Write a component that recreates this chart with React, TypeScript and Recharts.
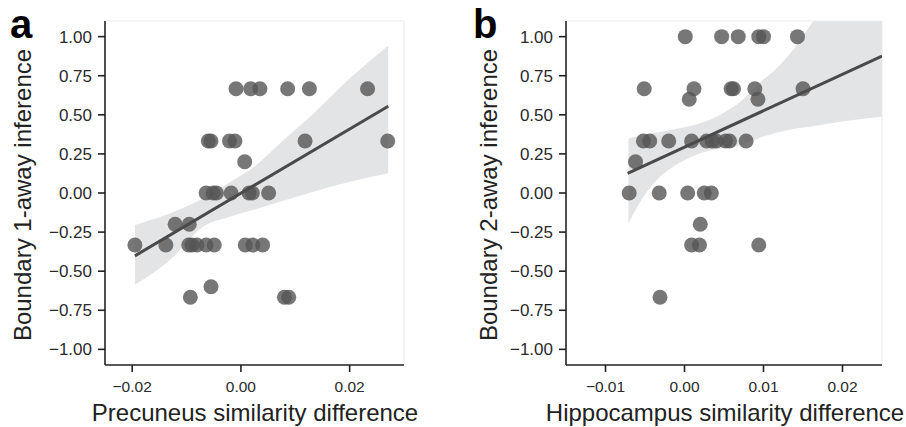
import React from 'react';
import { ComposedChart, Scatter, Area, XAxis, YAxis, ReferenceLine } from 'recharts';

const FONT = '"Liberation Sans", Arial, Helvetica, sans-serif';

const yTicks = [-1, -0.75, -0.5, -0.25, 0, 0.25, 0.5, 0.75, 1];
const xTicksA = [-0.02, 0, 0.02];
const xTicksB = [-0.01, 0, 0.01, 0.02];

// Panel a: Precuneus similarity difference vs Boundary 1-away inference
const pointsA = [
  { x: -0.0009, y: 0.667 }, { x: 0.0018, y: 0.667 }, { x: 0.0035, y: 0.667 },
  { x: 0.0086, y: 0.667 }, { x: 0.0126, y: 0.667 }, { x: 0.0233, y: 0.667 },
  { x: -0.0060, y: 0.333 }, { x: -0.0055, y: 0.333 }, { x: -0.0021, y: 0.333 },
  { x: -0.0011, y: 0.333 }, { x: 0.0118, y: 0.333 }, { x: 0.0270, y: 0.333 },
  { x: 0.0007, y: 0.2 },
  { x: -0.0064, y: 0 }, { x: -0.0051, y: 0 }, { x: -0.0045, y: 0 }, { x: -0.0018, y: 0 },
  { x: 0.0015, y: 0 }, { x: 0.0021, y: 0 }, { x: 0.0051, y: 0 },
  { x: -0.0121, y: -0.2 }, { x: -0.0095, y: -0.2 },
  { x: -0.0195, y: -0.333 }, { x: -0.0138, y: -0.333 }, { x: -0.0096, y: -0.333 },
  { x: -0.0090, y: -0.333 }, { x: -0.0081, y: -0.333 }, { x: -0.0064, y: -0.333 },
  { x: -0.0049, y: -0.333 }, { x: 0.0008, y: -0.333 }, { x: 0.0022, y: -0.333 },
  { x: 0.0040, y: -0.333 },
  { x: -0.0055, y: -0.6 },
  { x: -0.0093, y: -0.667 }, { x: 0.0080, y: -0.667 }, { x: 0.0088, y: -0.667 },
];
const fitA = [{ x: -0.0195, y: -0.402 }, { x: 0.0271, y: 0.555 }];
const bandA = [
  { x: -0.0195, lo: -0.587, hi: -0.204 },
  { x: -0.013, lo: -0.427, hi: -0.129 },
  { x: -0.0069, lo: -0.215, hi: -0.034 },
  { x: -0.002, lo: -0.152, hi: 0.07 },
  { x: 0.002, lo: -0.111, hi: 0.156 },
  { x: 0.0078, lo: -0.05, hi: 0.338 },
  { x: 0.014, lo: 0.015, hi: 0.53 },
  { x: 0.0201, lo: 0.072, hi: 0.735 },
  { x: 0.0271, lo: 0.126, hi: 0.944 },
];

// Panel b: Hippocampus similarity difference vs Boundary 2-away inference
const pointsB = [
  { x: 0.0001, y: 1 }, { x: 0.0047, y: 1 }, { x: 0.0068, y: 1 },
  { x: 0.0094, y: 1 }, { x: 0.0100, y: 1 }, { x: 0.0143, y: 1 },
  { x: -0.0051, y: 0.667 }, { x: 0.0012, y: 0.667 }, { x: 0.0059, y: 0.667 },
  { x: 0.0062, y: 0.667 }, { x: 0.0089, y: 0.667 }, { x: 0.0150, y: 0.667 },
  { x: 0.0006, y: 0.6 }, { x: 0.0093, y: 0.6 },
  { x: -0.0052, y: 0.333 }, { x: -0.0044, y: 0.333 }, { x: -0.0020, y: 0.333 },
  { x: 0.0009, y: 0.333 }, { x: 0.0028, y: 0.333 }, { x: 0.0035, y: 0.333 },
  { x: 0.0040, y: 0.333 }, { x: 0.0052, y: 0.333 }, { x: 0.0057, y: 0.333 },
  { x: 0.0078, y: 0.333 },
  { x: -0.0062, y: 0.2 },
  { x: -0.0070, y: 0 }, { x: -0.0032, y: 0 }, { x: 0.0004, y: 0 },
  { x: 0.0025, y: 0 }, { x: 0.0034, y: 0 },
  { x: 0.0020, y: -0.2 },
  { x: 0.0009, y: -0.333 }, { x: 0.0019, y: -0.333 }, { x: 0.0094, y: -0.333 },
  { x: -0.0031, y: -0.667 },
];
const fitB = [{ x: -0.0072, y: 0.125 }, { x: 0.025, y: 0.876 }];
const bandB = [
  { x: -0.0071, lo: -0.193, hi: 0.349 },
  { x: -0.0052, lo: -0.024, hi: 0.37 },
  { x: -0.0031, lo: 0.104, hi: 0.39 },
  { x: 0.0, lo: 0.21, hi: 0.42 },
  { x: 0.0033, lo: 0.274, hi: 0.47 },
  { x: 0.0052, lo: 0.29, hi: 0.52 },
  { x: 0.007, lo: 0.306, hi: 0.58 },
  { x: 0.0096, lo: 0.355, hi: 0.71 },
  { x: 0.0113, lo: 0.381, hi: 0.78 },
  { x: 0.0138, lo: 0.41, hi: 0.92 },
  { x: 0.0163, lo: 0.427, hi: 1.1 },
  { x: 0.0197, lo: 0.455, hi: 1.37 },
  { x: 0.025, lo: 0.487, hi: 1.78 },
];

const fmt = (v: number) => (v < -1e-12 ? '\u2212' : '') + Math.abs(v).toFixed(2);

const Dot = (props: any) => (
  <circle cx={props.cx} cy={props.cy} r={7.5} fill="#555" fillOpacity={0.8} />
);
const NoDot = () => <g />;

const YTick = (props: any) => (
  <text
    x={props.x}
    y={props.y}
    dy="0.36em"
    textAnchor="end"
    fontSize={17}
    fontFamily={FONT}
    fill="#2a2a2a"
  >
    {fmt(props.payload.value)}
  </text>
);
const XTick = (props: any) => (
  <text
    x={props.x}
    y={props.y}
    dy="0.76em"
    textAnchor="middle"
    fontSize={15.5}
    fontFamily={FONT}
    fill="#2a2a2a"
  >
    {fmt(props.payload.value)}
  </text>
);

const axisStroke = { stroke: '#222', strokeWidth: 1.6 };

type PanelProps = {
  points: { x: number; y: number }[];
  fit: { x: number; y: number }[];
  band: { x: number; lo: number; hi: number }[];
  xDomain: [number, number];
  xTicks: number[];
  yAxisWidth: number;
  marginRight: number;
};

function Panel({ points, fit, band, xDomain, xTicks, yAxisWidth, marginRight }: PanelProps) {
  return (
    <ComposedChart
      width={453}
      height={427}
      data={band}
      margin={{ top: 21, right: marginRight, left: 0, bottom: 0 }}
    >
      <XAxis
        type="number"
        dataKey="x"
        domain={xDomain}
        ticks={xTicks}
        interval={0}
        allowDataOverflow
        height={62}
        tickSize={7}
        tickMargin={8}
        axisLine={axisStroke}
        tickLine={axisStroke}
        tick={XTick}
      />
      <YAxis
        type="number"
        dataKey="y"
        domain={[-1.1, 1.1]}
        ticks={yTicks}
        interval={0}
        allowDataOverflow
        width={yAxisWidth}
        tickSize={7}
        tickMargin={6}
        axisLine={axisStroke}
        tickLine={axisStroke}
        tick={YTick}
      />
      <ReferenceLine y={1.1} stroke="#ebebeb" strokeWidth={1} />
      <ReferenceLine x={xDomain[1]} stroke="#ebebeb" strokeWidth={1} />
      <Area
        type="monotone"
        dataKey={(d: any) => [d.lo, d.hi]}
        stroke="none"
        fill="#e3e4e6"
        fillOpacity={1}
        dot={false}
        activeDot={false}
        isAnimationActive={false}
      />
      <Scatter data={points} shape={Dot} isAnimationActive={false} />
      <Scatter
        data={fit}
        shape={NoDot}
        line={{ stroke: '#4a4a4a', strokeWidth: 3 }}
        isAnimationActive={false}
      />
    </ComposedChart>
  );
}

export default function App() {
  return (
    <div style={{ position: 'absolute', left: 0, top: 0, width: 906, height: 427, background: '#fff' }}>
      <div style={{ position: 'absolute', left: 0, top: 0 }}>
        <Panel
          points={pointsA}
          fit={fitA}
          band={bandA}
          xDomain={[-0.025, 0.03]}
          xTicks={xTicksA}
          yAxisWidth={105}
          marginRight={49}
        />
      </div>
      <div style={{ position: 'absolute', left: 453, top: 0 }}>
        <Panel
          points={pointsB}
          fit={fitB}
          band={bandB}
          xDomain={[-0.015, 0.025]}
          xTicks={xTicksB}
          yAxisWidth={113}
          marginRight={24}
        />
      </div>
      <svg
        width={906}
        height={427}
        style={{ position: 'absolute', left: 0, top: 0, pointerEvents: 'none' }}
      >
        <text x={10} y={38} fontSize={40} fontWeight="bold" fontFamily={FONT} fill="#000">a</text>
        <text x={473} y={38} fontSize={40} fontWeight="bold" fontFamily={FONT} fill="#000">b</text>
        <text
          x={31}
          y={195}
          transform="rotate(-90, 31, 195)"
          textAnchor="middle"
          fontSize={24}
          fontFamily={FONT}
          fill="#222"
        >
          Boundary 1-away inference
        </text>
        <text
          x={497}
          y={195}
          transform="rotate(-90, 497, 195)"
          textAnchor="middle"
          fontSize={24}
          fontFamily={FONT}
          fill="#222"
        >
          Boundary 2-away inference
        </text>
        <text x={255} y={421} textAnchor="middle" fontSize={24} fontFamily={FONT} fill="#222">
          Precuneus similarity difference
        </text>
        <text x={725} y={421} textAnchor="middle" fontSize={24} fontFamily={FONT} fill="#222">
          Hippocampus similarity difference
        </text>
      </svg>
    </div>
  );
}
